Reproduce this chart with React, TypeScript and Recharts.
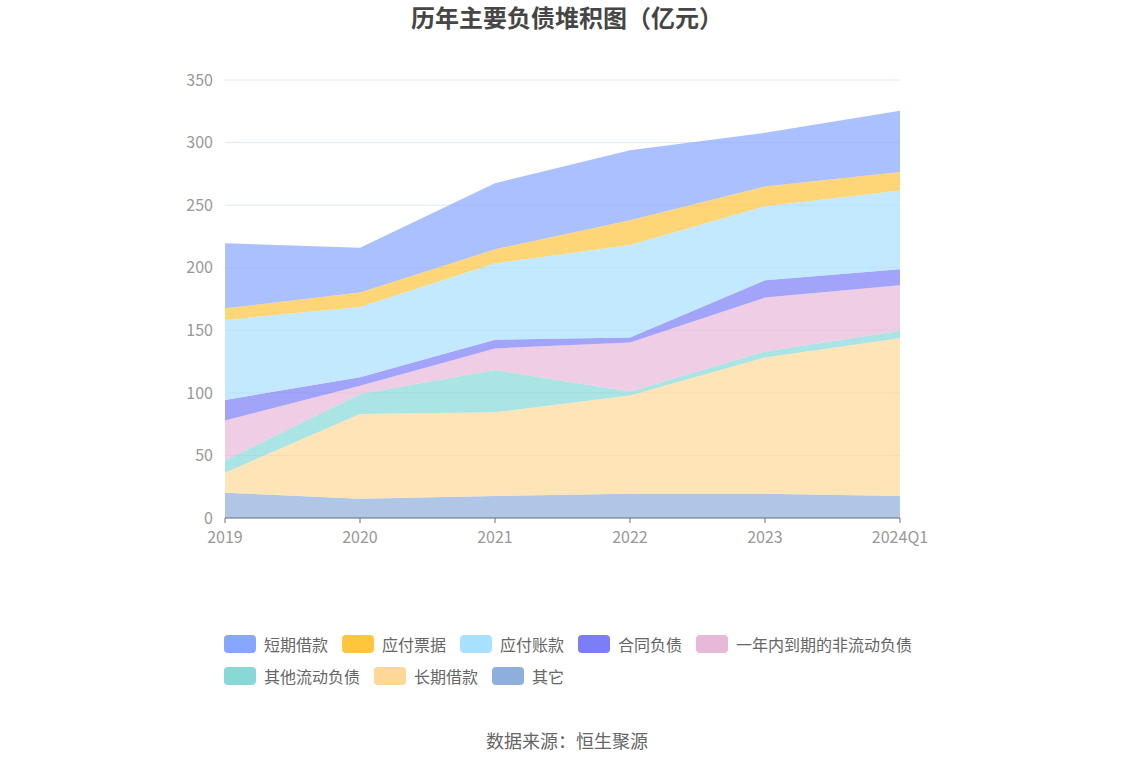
import { Area, AreaChart, CartesianGrid, XAxis, YAxis } from "recharts";

const years = ["2019", "2020", "2021", "2022", "2023", "2024Q1"];

// 亿元 (bottom to top)
const qita = [20.2, 15.4, 17.5, 19.4, 19.4, 17.5];
const changqiJiekuan = [16.0, 67.8, 67.0, 78.4, 108.9, 126.2];
const qitaLiudong = [9.8, 15.9, 33.7, 3.2, 4.7, 5.9];
const yinianNei = [31.9, 6.6, 17.3, 39.2, 43.1, 36.4];
const hetong = [16.4, 6.7, 6.9, 4.0, 13.9, 12.7];
const yingfuZhangkuan = [64.0, 56.3, 61.1, 73.9, 59.2, 63.0];
const yingfuPiaoju = [9.3, 11.4, 11.2, 19.9, 15.6, 14.8];
const duanqiJiekuan = [51.9, 35.8, 52.8, 55.8, 43.0, 49.0];

const yTicks = [0, 50, 100, 150, 200, 250, 300, 350];

// stack order, bottom first
const stackSeries = [
  { key: "其它", values: qita, color: "#8EAEDC" },
  { key: "长期借款", values: changqiJiekuan, color: "#FFD898" },
  { key: "其他流动负债", values: qitaLiudong, color: "#88D8D8" },
  { key: "一年内到期的非流动负债", values: yinianNei, color: "#E8B8D8" },
  { key: "合同负债", values: hetong, color: "#7B7EF6" },
  { key: "应付账款", values: yingfuZhangkuan, color: "#A8E0FF" },
  { key: "应付票据", values: yingfuPiaoju, color: "#FFC53D" },
  { key: "短期借款", values: duanqiJiekuan, color: "#87A7FF" },
];

const legendOrder = [
  "短期借款",
  "应付票据",
  "应付账款",
  "合同负债",
  "一年内到期的非流动负债",
  "其他流动负债",
  "长期借款",
  "其它",
];

const data = years.map((year, i) => {
  const row: Record<string, string | number> = { year };
  stackSeries.forEach((s) => {
    row[s.key] = s.values[i];
  });
  return row;
});

const FONT = '"Noto Sans CJK SC", "Noto Sans", sans-serif';

export default function App() {
  return (
    <div
      style={{
        position: "absolute",
        left: 0,
        top: 0,
        width: 1134,
        height: 766,
        background: "#fff",
        fontFamily: FONT,
      }}
    >
      <div
        style={{
          position: "absolute",
          top: 0,
          left: 0,
          width: 1134,
          textAlign: "center",
          fontSize: 24,
          fontWeight: 700,
          color: "#464646",
          lineHeight: "34px",
        }}
      >
        历年主要负债堆积图（亿元）
      </div>

      <AreaChart
        width={1134}
        height={766}
        data={data}
        margin={{ top: 80, right: 234, left: 165, bottom: 218 }}
      >
        <CartesianGrid vertical={false} stroke="#E0E6F1" strokeWidth={1} />
        <XAxis
          dataKey="year"
          height={30}
          tick={{ fontSize: 16, fill: "#999", fontFamily: FONT }}
          axisLine={{ stroke: "#6E7079" }}
          tickLine={{ stroke: "#6E7079" }}
          tickSize={5}
          tickMargin={9}
          interval={0}
        />
        <YAxis
          width={60}
          domain={[0, 350]}
          ticks={yTicks}
          tick={{ fontSize: 16, fill: "#999", fontFamily: FONT }}
          axisLine={false}
          tickLine={false}
          tickMargin={6}
        />
        {stackSeries.map((s) => (
          <Area
            key={s.key}
            type="linear"
            dataKey={s.key}
            stackId="debt"
            fill={s.color}
            fillOpacity={0.7}
            stroke="none"
            dot={false}
            activeDot={false}
            isAnimationActive={false}
          />
        ))}
      </AreaChart>

      <div
        style={{
          position: "absolute",
          left: 224,
          top: 632,
          width: 700,
          display: "flex",
          flexWrap: "wrap",
          columnGap: 14,
          rowGap: 8,
        }}
      >
        {legendOrder.map((name) => {
          const s = stackSeries.find((x) => x.key === name)!;
          return (
            <div
              key={name}
              style={{ display: "flex", alignItems: "center", height: 24 }}
            >
              <div
                style={{
                  width: 32,
                  height: 18,
                  borderRadius: 4,
                  background: s.color,
                  marginRight: 8,
                }}
              />
              <span style={{ fontSize: 16, color: "#666", lineHeight: "24px" }}>
                {name}
              </span>
            </div>
          );
        })}
      </div>

      <div
        style={{
          position: "absolute",
          top: 727,
          left: 0,
          width: 1134,
          textAlign: "center",
          fontSize: 18,
          color: "#666",
          lineHeight: "26px",
        }}
      >
        数据来源：恒生聚源
      </div>
    </div>
  );
}
